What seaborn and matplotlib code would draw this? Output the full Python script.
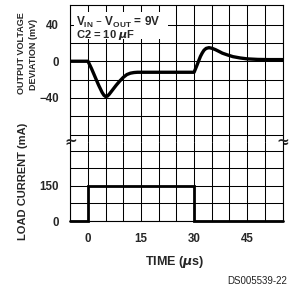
import numpy as np
import pandas as pd
import matplotlib
matplotlib.use('Agg')
import matplotlib.pyplot as plt
import seaborn as sns
from matplotlib.patches import Rectangle
from matplotlib.ticker import FixedLocator

# output voltage deviation (mV) against time (us)
time_v = [-5, 0, 1, 2, 3, 4, 4.5, 5, 5.5, 6, 7, 8, 9, 10, 11, 12, 13, 14, 20, 25,
          30, 30.4, 30.8, 31.3, 31.8, 32.3, 32.8, 33.4, 34.2, 35,
          36, 37, 38, 39.5, 41, 43, 45, 48, 51, 55]
dev_mv = [0, 0, -8, -17, -26, -34, -37, -38.5, -38, -36, -31, -26, -21.5, -17.5, -14.5, -13, -12.3, -12, -12, -12,
          -12, -8.3, -4.5, 0.5, 5.3, 9, 12, 14, 14.8, 14.2,
          12.7, 10.8, 8.8, 6.8, 5, 3.6, 2.6, 2, 1.8, 1.8]

# load current step (mA)
time_i = [-5, 0, 30, 55]
load_ma = [0, 150, 0, 0]

x_ticks = [0, 15, 30, 45]
x_grid = [-5, 5, 10, 20, 25, 35, 40, 50, 55]
v_ticks = [40, 0, -40]
v_labels = ['40', '0', '\u221240']
v_grid = [20, -20, -60, -80]
i_ticks = [0, 150]
i_grid = [75, 225, 300]

sns.set_theme(style='white')
plt.rcParams['font.family'] = ['Liberation Sans', 'DejaVu Sans']
plt.rcParams['font.weight'] = 'bold'
plt.rcParams['axes.linewidth'] = 0.8
plt.rcParams['axes.edgecolor'] = 'black'

W = H = 291.0


def box(l, t, r, b):
    return [l / W, 1 - b / H, (r - l) / W, (b - t) / H]


fig = plt.figure(figsize=(2.91, 2.91), dpi=100)
fig.patch.set_facecolor('white')
ax_v = fig.add_axes(box(70.3, 5, 282.5, 142))
ax_i = fig.add_axes(box(70.3, 142, 282.5, 221))

df_v = pd.DataFrame({'t': time_v, 'mv': dev_mv})
df_i = pd.DataFrame({'t': time_i, 'ma': load_ma})

sns.lineplot(data=df_v, x='t', y='mv', ax=ax_v, color='black', linewidth=2.4,
             solid_joinstyle='round', zorder=5)
sns.lineplot(data=df_i, x='t', y='ma', ax=ax_i, color='black', linewidth=2.0,
             drawstyle='steps-post', solid_joinstyle='miter', clip_on=False, zorder=5)

for ax in (ax_v, ax_i):
    ax.set_xlim(-5, 55)
    ax.xaxis.set_major_locator(FixedLocator(x_ticks))
    ax.xaxis.set_minor_locator(FixedLocator(x_grid))
    ax.grid(True, which='both', color='black', linewidth=0.75)
    ax.tick_params(which='both', length=0, labelsize=8.3)
    ax.set_xlabel('')
    ax.set_ylabel('')
    for s in ax.spines.values():
        s.set_color('black')
        s.set_linewidth(0.8)

ax_v.set_ylim(-88, 61.3)
ax_v.yaxis.set_major_locator(FixedLocator(v_ticks))
ax_v.yaxis.set_minor_locator(FixedLocator(v_grid))
ax_v.set_yticklabels(v_labels)
ax_v.tick_params(labelbottom=False, pad=8)
ax_v.spines['bottom'].set_visible(False)

ax_i.set_ylim(0, 337)
ax_i.yaxis.set_major_locator(FixedLocator(i_ticks))
ax_i.yaxis.set_minor_locator(FixedLocator(i_grid))
ax_i.set_xticklabels([str(t) for t in x_ticks])
ax_i.tick_params(axis='y', pad=8)
ax_i.tick_params(axis='x', pad=8.5)
ax_i.spines['top'].set_visible(False)

# axis breaks
for xb in (0, 1):
    ax_v.text(xb, 0, '\u2248', transform=ax_v.transAxes, ha='center', va='center',
              fontsize=11, fontweight='bold', family='DejaVu Sans', clip_on=False, zorder=6)

# condition box
ax_v.add_patch(Rectangle((0.0174, 0.752), 0.443, 0.197, transform=ax_v.transAxes,
                         facecolor='white', edgecolor='none', zorder=3))
ax_v.text(0.0283, 0.85, 'V$_\\mathregular{IN}$ \u2013 V$_\\mathregular{OUT}$ = 9V',
          transform=ax_v.transAxes, ha='left', va='baseline', fontsize=8.5, zorder=4)
ax_v.text(0.027, 0.758, 'C2 = 10 $\\mu$F', transform=ax_v.transAxes,
          ha='left', va='baseline', fontsize=8, zorder=4)

fig.text(21.5 / W, 1 - 53.5 / H, 'OUTPUT VOLTAGE', rotation=90, ha='center', va='center',
         fontsize=6.5)
fig.text(33.3 / W, 1 - 54 / H, 'DEVIATION (mV)', rotation=90, ha='center', va='center',
         fontsize=6.5)
fig.text(23.5 / W, 1 - 181.7 / H, 'LOAD CURRENT (mA)', rotation=90, ha='center', va='center',
         fontsize=8)
fig.text(175 / W, 1 - 261.5 / H, 'TIME ($\\mu$s)', ha='center', va='center', fontsize=9)
fig.text(287 / W, 1 - 280.7 / H, 'DS005539-22', ha='right', va='center', fontsize=7,
         fontweight='normal', color='#222222')

fig.savefig('out.png', dpi=100)
